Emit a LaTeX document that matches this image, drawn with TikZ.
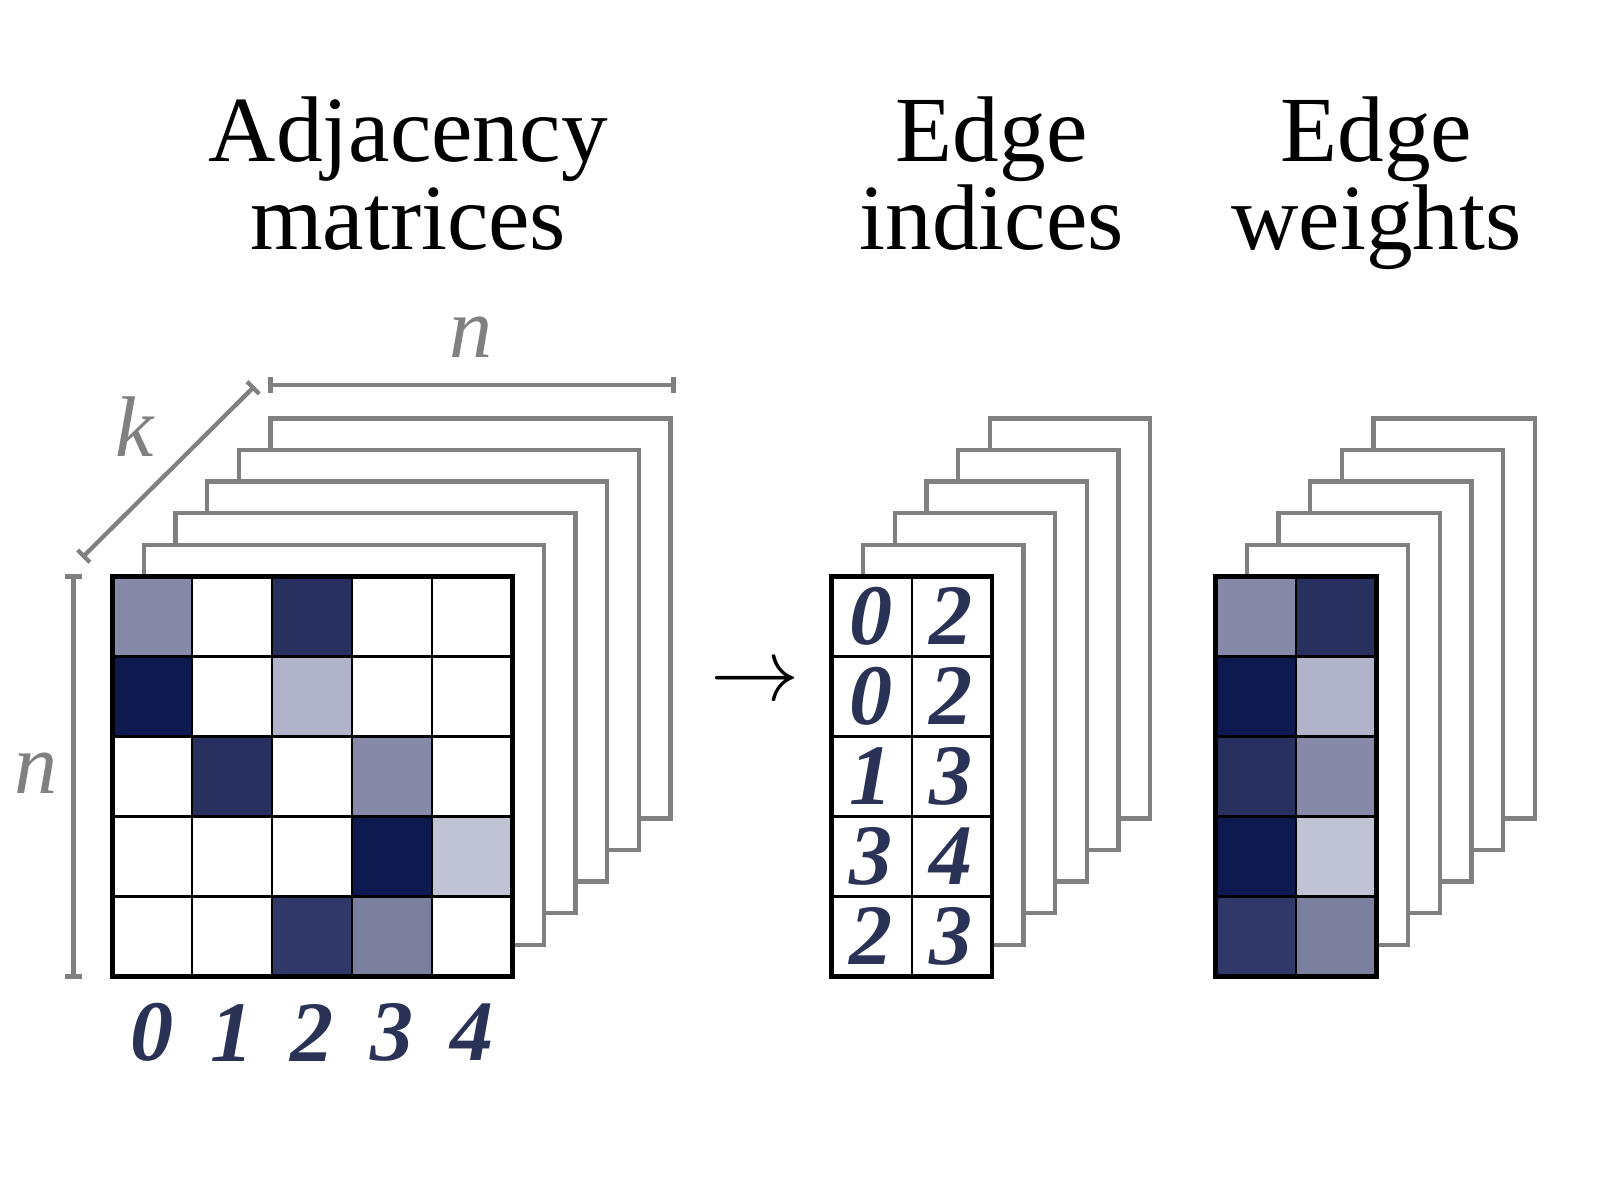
\documentclass[tikz,border=0pt]{standalone}
\usepackage{fontspec}
\setmainfont{Liberation Serif}
\begin{document}
\begin{tikzpicture}[x=0.01cm,y=-0.01cm,
  lay/.style={draw=dimc,line width=1.2pt,fill=white},
  dim/.style={draw=dimc,line width=1.2pt},
  cell/.style={draw=black,line width=0.6pt},
  ttl/.style={font=\fontsize{26}{28}\selectfont,anchor=base},
  num/.style={font=\fontsize{24}{26}\selectfont\bfseries\itshape,text=numc},
  lab/.style={font=\fontsize{24}{26}\selectfont\itshape,text=dimc}]
\definecolor{cA}{HTML}{8689A8}\definecolor{cB}{HTML}{27305F}
\definecolor{cC}{HTML}{0E1A4F}\definecolor{cD}{HTML}{B0B3C9}
\definecolor{cE}{HTML}{C0C3D4}\definecolor{cF}{HTML}{2F3868}
\definecolor{cG}{HTML}{7A7F9D}\definecolor{numc}{HTML}{2A3256}
\definecolor{dimc}{HTML}{808080}
\useasboundingbox (0,0) rectangle (1568,1176);
\node[ttl] (t1a) at (400,158) {Adjacency};
\node[ttl] (t1b) at (400,245) {matrices};
\node[ttl] (t2a) at (972,158) {Edge};
\node[ttl] (t2b) at (972,245) {indices};
\node[ttl] (t3a) at (1349,158) {Edge};
\node[ttl] (t3b) at (1349,245) {weights};
% adjacency stack
\foreach \i in {5,4,3,2,1}{\draw[lay] (110+31*\i,565-31*\i) rectangle (502+31*\i,957-31*\i);}
\fill[white] (110,565) rectangle (502,957);
\def\cs{78.4}
\foreach \r/\c/\col in {0/0/cA,0/2/cB,1/0/cC,1/2/cD,2/1/cB,2/3/cA,3/3/cC,3/4/cE,4/2/cF,4/3/cG}{
  \fill[\col] (110+\c*\cs,565+\r*\cs) rectangle +(\cs,\cs);}
\foreach \k in {1,...,4}{\draw[cell] (110+\k*\cs,565)--(110+\k*\cs,957); \draw[cell] (110,565+\k*\cs)--(502,565+\k*\cs);}
\draw[line width=1.3pt] (110,565) rectangle (502,957);
\foreach \d [count=\j from 0] in {0,1,2,3,4}{\node[num] (c\j) at (149+\j*\cs,1012) {\d};}
% dims
\draw[dim] (72,565)--(72,957) (64,565)--(80,565) (64,957)--(80,957);
\node[lab] (nl) at (35,758) {n};
\draw[dim] (265,377)--(660,377) (265,369)--(265,385) (660,369)--(660,385);
\node[lab] (nt) at (462,330) {n};
\draw[dim] (82,545)--(248,380) (76,539)--(88,551) (242,374)--(254,386);
\node[lab] (kl) at (132,418) {k};
\node[font=\fontsize{24}{24}\selectfont] (arr) at (740,670) {$\rightarrow$};
% edge indices
\foreach \i in {5,4,3,2,1}{\draw[lay] (815+31*\i,565-31*\i) rectangle (972+31*\i,957-31*\i);}
\fill[white] (815,565) rectangle (972,957);
\foreach \a/\b [count=\r from 0] in {0/2,0/2,1/3,3/4,2/3}{
  \node[num] at (854,604+\r*\cs) {\a};\node[num] at (932,604+\r*\cs) {\b};}
\draw[cell] (893.5,565)--(893.5,957);
\foreach \k in {1,...,4}{\draw[cell] (815,565+\k*\cs)--(972,565+\k*\cs);}
\draw[line width=1.3pt] (815,565) rectangle (972,957);
% edge weights
\foreach \i in {5,4,3,2,1}{\draw[lay] (1191+31*\i,565-31*\i) rectangle (1349+31*\i,957-31*\i);}
\foreach \a/\b [count=\r from 0] in {cA/cB,cC/cD,cB/cA,cC/cE,cF/cG}{
  \fill[\a] (1191,565+\r*\cs) rectangle +(79,\cs);\fill[\b] (1270,565+\r*\cs) rectangle +(79,\cs);}
\draw[cell] (1270,565)--(1270,957);
\foreach \k in {1,...,4}{\draw[cell] (1191,565+\k*\cs)--(1349,565+\k*\cs);}
\draw[line width=1.3pt] (1191,565) rectangle (1349,957);
\end{tikzpicture}
\end{document}
